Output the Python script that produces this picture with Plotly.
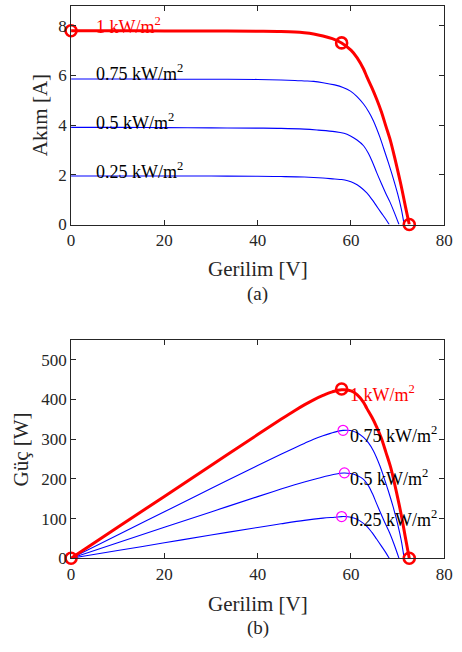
import numpy as np
import plotly.graph_objects as go

# ---- data (Voltage [V], Current [A]) ----
v_100 = [0, 10, 20, 30, 40, 45, 48, 50, 52, 54, 56, 58, 60, 61.3, 62.7, 63.4, 64.5, 65.5,
         66.5, 67.5, 68.5, 69.3, 70.3, 71.0, 71.7, 72.5]
i_100 = [7.80, 7.80, 7.79, 7.79, 7.78, 7.77, 7.75, 7.72, 7.67, 7.59, 7.48, 7.31, 7.02, 6.72,
         6.26, 5.95, 5.50, 5.05, 4.55, 3.95, 3.35, 2.75, 1.95, 1.35, 0.70, 0.0]

v_075 = [0, 10, 20, 30, 40, 45, 48, 50, 52, 54, 56.5, 58.3, 59.9, 61.3, 62.7, 63.8, 64.8,
         66.2, 67.0, 68.0, 69.0, 70.0, 70.8, 71.4]
i_075 = [5.86, 5.86, 5.85, 5.85, 5.84, 5.82, 5.80, 5.78, 5.76, 5.71, 5.62, 5.52, 5.37, 5.15,
         4.85, 4.54, 4.18, 3.52, 3.07, 2.50, 1.90, 1.24, 0.62, 0.0]

v_050 = [0, 10, 20, 30, 40, 45, 50, 53, 56.5, 58.5, 59.9, 61.3, 62.7, 63.7, 64.6, 65.5,
         66.5, 67.4, 68.3, 69.2, 70.3]
i_050 = [3.91, 3.91, 3.90, 3.89, 3.88, 3.87, 3.84, 3.80, 3.74, 3.67, 3.56, 3.40, 3.17, 2.88,
         2.52, 2.10, 1.66, 1.28, 0.93, 0.53, 0.0]

v_025 = [0, 10, 20, 30, 40, 45, 50, 54, 56.5, 58, 59.3, 60.6, 62, 63.4, 64.5, 65.5, 66.5,
         67.4, 68.2]
i_025 = [1.95, 1.95, 1.95, 1.95, 1.94, 1.93, 1.91, 1.87, 1.83, 1.81, 1.76, 1.67, 1.51, 1.27,
         1.01, 0.74, 0.47, 0.23, 0.0]

# key points of the 1 kW/m2 curve (Isc, MPP, Voc)
key_v = [0, 58, 72.5]
key_i = [7.80, 7.31, 0.0]
key_p = [0, 426, 0]

# MPP markers of the other irradiance levels
mpp_v = [58.3, 58.6, 58.0]
mpp_p = [322, 215, 105]

labels = ["1 kW/m<sup>2</sup>", "0.75 kW/m<sup>2</sup>", "0.5 kW/m<sup>2</sup>", "0.25 kW/m<sup>2</sup>"]
label_iv_y = [8.0, 6.1, 4.13, 2.16]
label_p_y = [414, 311, 204, 99]

x_ticks = [0, 20, 40, 60, 80]
i_ticks = [0, 2, 4, 6, 8]
p_ticks = [0, 100, 200, 300, 400, 500]

FONT = "Liberation Serif, 'Times New Roman', Times, 'DejaVu Serif', serif"
AX = "#262626"
RED = "rgb(255,0,0)"
BLUE = "rgb(0,0,255)"
MAG = "rgb(255,0,255)"

fig = go.Figure()

LS = dict(shape="spline", smoothing=1.0)
blue_sets = [(v_075, i_075), (v_050, i_050), (v_025, i_025)]
for v, i in blue_sets:
    fig.add_trace(go.Scatter(x=v, y=i, mode="lines", line=dict(color=BLUE, width=1.1, **LS),
                             xaxis="x", yaxis="y", showlegend=False, hoverinfo="skip"))
fig.add_trace(go.Scatter(x=v_100, y=i_100, mode="lines", line=dict(color=RED, width=3, **LS),
                         xaxis="x", yaxis="y", showlegend=False))
fig.add_trace(go.Scatter(x=key_v, y=key_i, mode="markers", cliponaxis=False,
                         marker=dict(symbol="circle-open", size=11, color=RED, line=dict(width=2.6, color=RED)),
                         xaxis="x", yaxis="y", showlegend=False))

# power curves P = V * I
for v, i in blue_sets:
    p = (np.array(v) * np.array(i)).tolist()
    fig.add_trace(go.Scatter(x=v, y=p, mode="lines", line=dict(color=BLUE, width=1.1, **LS),
                             xaxis="x2", yaxis="y2", showlegend=False))
p100 = (np.array(v_100) * np.array(i_100)).tolist()
fig.add_trace(go.Scatter(x=v_100, y=p100, mode="lines", line=dict(color=RED, width=3, **LS),
                         xaxis="x2", yaxis="y2", showlegend=False))
fig.add_trace(go.Scatter(x=mpp_v, y=mpp_p, mode="markers", cliponaxis=False,
                         marker=dict(symbol="circle-open", size=10, color=MAG, line=dict(width=1.2, color=MAG)),
                         xaxis="x2", yaxis="y2", showlegend=False))
fig.add_trace(go.Scatter(x=key_v, y=key_p, mode="markers", cliponaxis=False,
                         marker=dict(symbol="circle-open", size=11, color=RED, line=dict(width=2.6, color=RED)),
                         xaxis="x2", yaxis="y2", showlegend=False))

W, H = 462, 652

def fx(px):
    return px / W

def fy(py):
    return 1 - py / H

xd = [fx(69), fx(453)]
top_d = [fy(228), fy(6)]
bot_d = [fy(567), fy(345)]

axcommon = dict(showline=True, linecolor=AX, linewidth=1, mirror="ticks", ticks="inside", ticklen=5,
                tickcolor=AX, tickwidth=1, showgrid=False, zeroline=False,
                tickfont=dict(family=FONT, size=17, color=AX))

fig.update_layout(
    width=W, height=H, margin=dict(l=0, r=0, t=0, b=0), autosize=False,
    paper_bgcolor="white", plot_bgcolor="white", showlegend=False,
    font=dict(family=FONT),
    xaxis=dict(domain=xd, range=[0, 80], tickvals=x_ticks, anchor="y", **axcommon),
    yaxis=dict(domain=top_d, range=[0, 8.8], tickvals=i_ticks, anchor="x", **axcommon),
    xaxis2=dict(domain=xd, range=[0, 80], tickvals=x_ticks, anchor="y2", **axcommon),
    yaxis2=dict(domain=bot_d, range=[0, 550], tickvals=p_ticks, anchor="x2", **axcommon),
)

ann = []
colors = [RED, "black", "black", "black"]
for lab, y, c in zip(labels, label_iv_y, colors):
    ann.append(dict(x=5, y=y, xref="x", yref="y", text=lab, showarrow=False, xanchor="left", yanchor="middle",
                    font=dict(family=FONT, size=18, color=c)))
for lab, y, c in zip(labels, label_p_y, colors):
    ann.append(dict(x=59.4, y=y, xref="x2", yref="y2", text=lab, showarrow=False, xanchor="left", yanchor="middle",
                    font=dict(family=FONT, size=18, color=c)))

def paper_text(text, px, py, size, angle=0):
    return dict(x=fx(px), y=fy(py), xref="paper", yref="paper", text=text, showarrow=False,
                xanchor="center", yanchor="middle", textangle=angle, font=dict(family=FONT, size=size, color=AX))

ann += [
    paper_text("Gerilim [V]", 261, 273, 21),
    paper_text("(a)", 261, 299, 19),
    paper_text("Akım [A]", 37, 117, 21, -90),
    paper_text("Gerilim [V]", 261, 613, 21),
    paper_text("(b)", 261, 638, 19),
    paper_text("Güç [W]", 18, 456, 21, -90),
]
fig.update_layout(annotations=ann)

fig.write_html(
    "out.html",
    config={"displayModeBar": False, "responsive": False},
    post_script=("document.documentElement.style.margin='0';document.documentElement.style.overflow='hidden';"
                 "document.body.style.margin='0';document.body.style.padding='0';document.body.style.overflow='hidden';"),
)
